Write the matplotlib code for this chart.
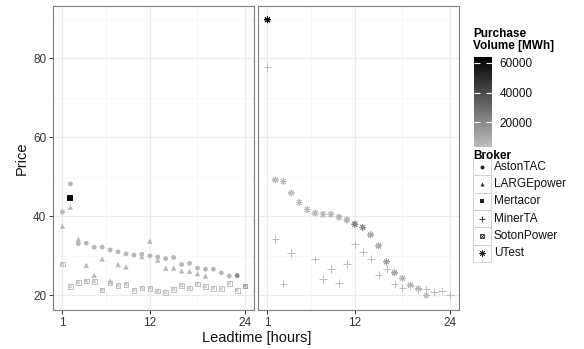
import numpy as np
import matplotlib
matplotlib.use("Agg")
import matplotlib.pyplot as plt
from matplotlib.colors import LinearSegmentedColormap, Normalize
from matplotlib.cm import ScalarMappable
from matplotlib.patches import Rectangle

plt.rcParams['font.family'] = ['Liberation Sans', 'DejaVu Sans']

# --- data ---
aston_hours = list(range(1, 24))
aston_price = [41.1, 48.2, 33.1, 33.2, 32.2, 32.2, 31.5, 31.0, 30.5, 30.2, 30.4, 30.0,
               29.7, 29.3, 29.6, 27.8, 28.1, 26.9, 26.6, 26.6, 25.7, 24.9, 25.0]
aston_vol = [6000] * 22 + [20000]

large_hours = [1, 2, 3, 4, 5, 6, 7, 8, 9, 11, 12, 13, 14, 15, 16, 17, 18, 19]
large_price = [37.5, 42.3, 34.2, 27.6, 25.1, 29.2, 23.6, 27.8, 27.2, 29.8, 33.7, 28.9,
               26.9, 26.9, 26.2, 26.1, 25.5, 24.9]
large_vol = [5000] * 18

merta_hours = [2]
merta_price = [44.6]
merta_vol = [60000]

soton_hours = list(range(1, 25))
soton_price = [27.9, 22.2, 23.2, 23.6, 23.5, 21.4, 23.1, 22.5, 22.8, 21.3, 21.9, 21.8,
               21.1, 20.7, 21.5, 22.5, 21.9, 22.9, 22.2, 21.8, 21.7, 23.0, 21.3, 22.4]
soton_vol = [3500] * 23 + [12000]

miner_hours = [1, 2, 3, 4, 7, 8, 9, 10, 11, 12, 13, 14, 15, 16, 17, 18, 19, 20, 21, 22, 23, 24]
miner_price = [77.8, 34.2, 23.0, 30.7, 29.1, 24.1, 26.7, 23.2, 27.9, 32.9, 30.9, 29.3,
               25.1, 26.6, 22.9, 21.8, 22.3, 21.6, 21.5, 20.8, 21.2, 20.1]
miner_vol = [5000] * 22

utest_hours = list(range(1, 22))
utest_price = [89.7, 49.2, 48.8, 45.9, 43.5, 41.7, 40.8, 40.5, 40.5, 39.8, 39.1, 38.0,
               37.2, 35.3, 32.5, 28.5, 25.7, 24.3, 22.6, 21.7, 20.0]
utest_vol = [64000, 4500, 4500, 4500, 4500, 4500, 4500, 5000, 5000, 6000, 8000, 22000,
             20000, 11000, 9000, 13000, 11000, 8000, 6000, 6000, 5000]

brokers = ["AstonTAC", "LARGEpower", "Mertacor", "MinerTA", "SotonPower", "UTest"]
x_ticks = [1, 12, 24]
y_ticks = [20, 40, 60, 80]
cbar_ticks = [20000, 40000, 60000]

all_vol = aston_vol + large_vol + merta_vol + soton_vol + miner_vol + utest_vol
cmap = LinearSegmentedColormap.from_list("vol", ["#bebebe", "#000000"])
norm = Normalize(vmin=min(all_vol), vmax=max(all_vol))

def col(v):
    return cmap(norm(np.array(v)))

W, H = 584, 349
fig = plt.figure(figsize=(W / 100, H / 100), dpi=100)

def px_axes(x0, y0, x1, y1):
    return fig.add_axes([x0 / W, 1 - y1 / H, (x1 - x0) / W, (y1 - y0) / H])

ax1 = px_axes(53.3, 6, 254.3, 310)
ax2 = px_axes(258.3, 6, 459.3, 310)

for ax in (ax1, ax2):
    ax.set_xlim(-0.15, 25.15)
    ax.set_ylim(16.3, 93.2)
    ax.set_xticks(x_ticks)
    ax.set_xticks([6.5, 18], minor=True)
    ax.set_yticks(y_ticks)
    ax.set_yticks([30, 50, 70, 90], minor=True)
    ax.grid(True, which='major', color='#ebebeb', lw=0.9)
    ax.grid(True, which='minor', color='#f5f5f5', lw=0.5)
    ax.set_axisbelow(True)
    for s in ax.spines.values():
        s.set_color('#7f7f7f')
        s.set_linewidth(0.8)
    ax.tick_params(which='major', length=3, width=0.7, color='#333333',
                   labelsize=8.5, labelcolor='#333333', pad=2)
    ax.tick_params(which='minor', length=0)
ax2.tick_params(axis='y', which='both', left=False, labelleft=False)

# left panel
ax1.scatter(aston_hours, aston_price, s=12, marker='o', c=col(aston_vol), linewidths=0)
ax1.scatter(large_hours, large_price, s=15, marker='^', c=col(large_vol), linewidths=0)
ax1.scatter(soton_hours, soton_price, s=11, marker='s', facecolors='none',
            edgecolors=col(soton_vol), linewidths=0.7)
ax1.scatter(soton_hours, soton_price, s=6, marker='x', c=col(soton_vol), linewidths=0.6)
ax1.scatter(merta_hours, merta_price, s=15, marker='s', c=col(merta_vol), linewidths=0)

# right panel
ax2.scatter(miner_hours, miner_price, s=30, marker='+', c=col(miner_vol), linewidths=0.7)
ax2.scatter(utest_hours, utest_price, s=20, marker=(8, 2, 0), c=col(utest_vol), linewidths=0.6)

fig.text(257 / W, 1 - 338 / H, "Leadtime [hours]", ha='center', va='center',
         fontsize=10.5, color='#111111')
fig.text(22 / W, 1 - 158 / H, "Price", ha='center', va='center', rotation=90,
         fontsize=10.5, color='#111111')

# colour bar legend
fig.text(473 / W, 1 - 40 / H, "Purchase\nVolume [MWh]", ha='left', va='center',
         fontsize=8.5, fontweight='bold', linespacing=1.05)
cax = px_axes(474.3, 57, 492.3, 147)
cb = fig.colorbar(ScalarMappable(norm=norm, cmap=cmap), cax=cax)
cb.set_ticks(cbar_ticks)
cb.outline.set_visible(False)
cax.tick_params(axis='y', direction='in', left=True, right=True, color='white',
                length=4, width=0.8, labelsize=8.5, pad=5, labelcolor='#111111')

# broker legend
lax = fig.add_axes([0, 0, 1, 1], facecolor='none')
lax.set_xlim(0, W)
lax.set_ylim(H, 0)
lax.axis('off')
fig.text(473 / W, 1 - 156 / H, "Broker", ha='left', va='center',
         fontsize=8.5, fontweight='bold')
key_markers = ['o', '^', 's', '+', 's', (8, 2, 0)]
for i, name in enumerate(brokers):
    yc = 166.7 + i * 17.3
    lax.add_patch(Rectangle((473.3, yc - 8.65), 17.3, 17.3, facecolor='white',
                            edgecolor='#cccccc', lw=0.6))
    m = key_markers[i]
    if name == "SotonPower":
        lax.scatter([482], [yc], s=9, marker='s', facecolors='none', edgecolors='#222222', linewidths=0.6)
        lax.scatter([482], [yc], s=5, marker='x', c='#222222', linewidths=0.5)
    elif name in ("MinerTA", "UTest"):
        lax.scatter([482], [yc], s=16, marker=m, c='#222222', linewidths=0.6)
    else:
        lax.scatter([482], [yc], s=8, marker=m, c='#222222', linewidths=0)
    lax.text(494, yc, name, ha='left', va='center', fontsize=8.5, color='#111111')

fig.savefig("out.png", dpi=100)
